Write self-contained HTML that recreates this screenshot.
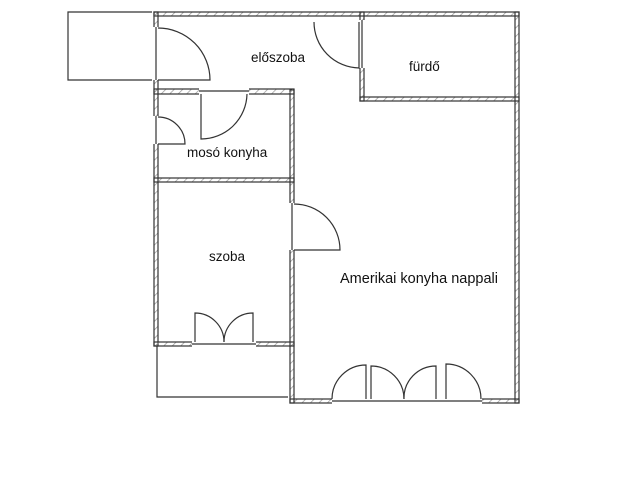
<!DOCTYPE html>
<html><head><meta charset="utf-8"><style>
html,body{margin:0;padding:0;background:#fff;width:640px;height:480px;overflow:hidden}
text{font-family:"Liberation Sans",sans-serif;font-size:13.5px;fill:#111}
</style></head><body>
<svg width="640" height="480" viewBox="0 0 640 480" xmlns="http://www.w3.org/2000/svg">
<defs>
<pattern id="h" width="6" height="6" patternUnits="userSpaceOnUse" patternTransform="rotate(45)">
<line x1="0" y1="0" x2="0" y2="6" stroke="#999" stroke-width="1.5"/>
</pattern>
</defs>
<g fill="url(#h)" stroke="#333" stroke-width="1.2">
<rect x="154" y="12" width="365" height="4"/>
<rect x="154" y="12" width="4" height="334"/>
<rect x="515" y="12" width="4" height="391"/>
<rect x="290" y="399" width="229" height="4"/>
<rect x="290" y="90" width="4" height="313"/>
<rect x="154" y="89" width="140" height="5"/>
<rect x="154" y="178" width="140" height="4"/>
<rect x="154" y="342" width="140" height="4"/>
<rect x="360" y="12" width="4" height="89"/>
<rect x="360" y="97" width="159" height="4"/>
</g>
<g fill="#fff" stroke="none">
<rect x="153" y="27" width="6" height="53"/>
<rect x="199" y="88" width="50" height="7"/>
<rect x="153" y="116" width="6" height="28"/>
<rect x="289" y="203" width="6" height="47"/>
<rect x="192" y="341" width="64" height="6"/>
<rect x="332" y="398" width="150" height="6"/>
<rect x="359" y="20" width="6" height="48"/>
</g>
<g fill="none" stroke="#333" stroke-width="1.2">
<line x1="156" y1="27" x2="156" y2="80"/>
<line x1="199" y1="91" x2="249" y2="91"/>
<line x1="156" y1="116" x2="156" y2="144"/>
<line x1="292" y1="203" x2="292" y2="250"/>
<line x1="192" y1="344" x2="256" y2="344"/>
<line x1="332" y1="401" x2="482" y2="401"/>
<line x1="362" y1="20" x2="362" y2="68"/>
<path d="M152 12 H68 V80 H152"/>
<path d="M157 346 V397 H288"/>
<path d="M158 80 H210 A52 52 0 0 0 158 28"/>
<path d="M359 22 V68 A46 46 0 0 1 314 22"/>
<path d="M201 94 V139 A46 46 0 0 0 247 94"/>
<path d="M158 144 H185 A27 27 0 0 0 158 117"/>
<path d="M294 250 H340 A46 46 0 0 0 294 204"/>
<path d="M195 342 V313 A29 29 0 0 1 224 342"/>
<path d="M253 342 V313 A29 29 0 0 0 224 342"/>
<path d="M366 399 V365 A34 34 0 0 0 332 399"/>
<path d="M371 399 V366 A33 33 0 0 1 404 399"/>
<path d="M436 399 V366 A32 32 0 0 0 404 399"/>
<path d="M446 399 V364 A35 35 0 0 1 481 399"/>
</g>
<text x="251" y="62">előszoba</text>
<text x="409" y="71">fürdő</text>
<text x="187" y="157">mosó konyha</text>
<text x="209" y="261">szoba</text>
<text x="340" y="283" style="font-size:14.5px">Amerikai konyha nappali</text>
</svg>
</body></html>
